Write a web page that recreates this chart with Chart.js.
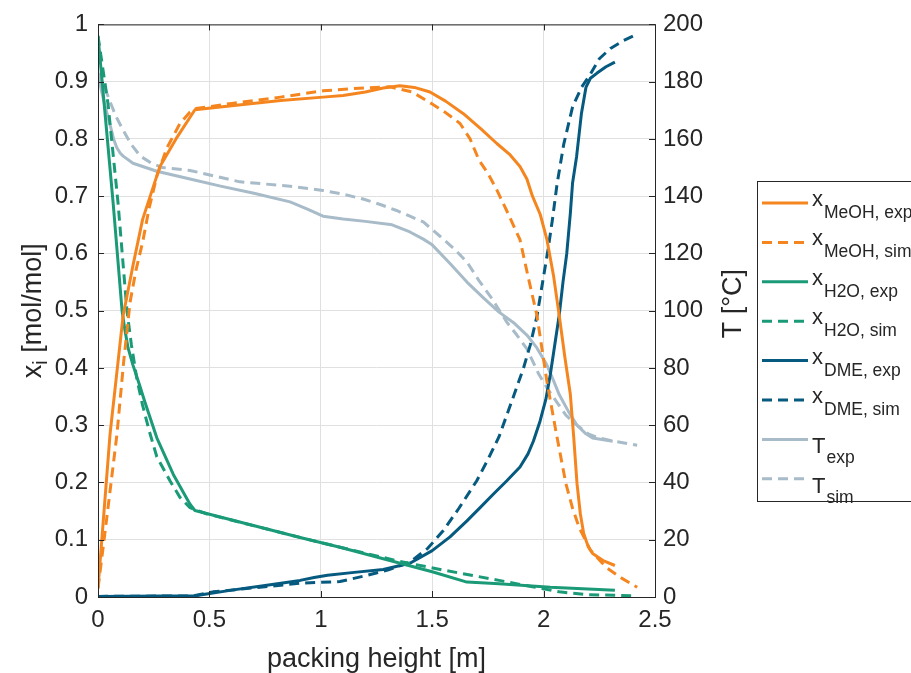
<!DOCTYPE html>
<html>
<head>
<meta charset="utf-8">
<script src="https://cdn.jsdelivr.net/npm/chart.js@4.4.0/dist/chart.umd.min.js"></script>
<style>
  html, body { margin: 0; padding: 0; background: #fff; overflow: hidden; }
</style>
</head>
<body>
<canvas id="myChart" width="911" height="673"></canvas>
<script>
// packing height [m] / mole fraction [mol/mol] / temperature [°C]
const hMeohExp = [0, 0.054, 0.113, 0.157, 0.2, 0.278, 0.35, 0.435, 0.6, 0.82, 1.01, 1.1, 1.2, 1.28, 1.355, 1.42, 1.49, 1.56, 1.64, 1.72, 1.79, 1.85, 1.894, 1.925, 1.95, 1.985, 2.015, 2.045, 2.07, 2.095, 2.12, 2.135, 2.15, 2.165, 2.18, 2.2, 2.22, 2.27, 2.32];
const xMeohExp = [0.015, 0.284, 0.492, 0.579, 0.659, 0.752, 0.8, 0.851, 0.858, 0.867, 0.873, 0.876, 0.882, 0.889, 0.893, 0.89, 0.882, 0.866, 0.844, 0.817, 0.792, 0.772, 0.752, 0.73, 0.70, 0.668, 0.624, 0.56, 0.492, 0.42, 0.354, 0.28, 0.198, 0.145, 0.111, 0.088, 0.076, 0.063, 0.055];

const hMeohSim = [0, 0.04, 0.085, 0.115, 0.144, 0.17, 0.2, 0.23, 0.264, 0.31, 0.368, 0.413, 0.44, 0.6, 0.82, 1.01, 1.15, 1.31, 1.41, 1.5, 1.56, 1.625, 1.67, 1.71, 1.75, 1.79, 1.84, 1.894, 1.93, 1.97, 2.015, 2.055, 2.1, 2.13, 2.16, 2.21, 2.28, 2.35, 2.42];
const xMeohSim = [0.015, 0.14, 0.284, 0.41, 0.515, 0.57, 0.619, 0.68, 0.735, 0.785, 0.827, 0.847, 0.853, 0.862, 0.873, 0.884, 0.888, 0.891, 0.882, 0.861, 0.846, 0.827, 0.8, 0.763, 0.74, 0.711, 0.67, 0.624, 0.56, 0.492, 0.376, 0.29, 0.198, 0.155, 0.121, 0.082, 0.052, 0.033, 0.017];

const hH2oExp = [0, 0.035, 0.068, 0.09, 0.108, 0.12, 0.135, 0.157, 0.185, 0.21, 0.264, 0.338, 0.413, 0.435, 0.907, 1.086, 1.356, 1.5, 1.656, 1.8, 2.03, 2.32];
const xH2oExp = [0.98, 0.83, 0.688, 0.585, 0.5, 0.468, 0.435, 0.405, 0.372, 0.341, 0.278, 0.214, 0.162, 0.151, 0.104, 0.087, 0.059, 0.044, 0.026, 0.023, 0.017, 0.012];

const hH2oSim = [0, 0.045, 0.09, 0.115, 0.13, 0.15, 0.175, 0.2, 0.23, 0.264, 0.323, 0.368, 0.413, 0.49, 1.0, 1.356, 1.55, 1.8, 1.95, 2.07, 2.2, 2.42];
const xH2oSim = [0.98, 0.861, 0.688, 0.57, 0.5, 0.44, 0.38, 0.335, 0.29, 0.245, 0.203, 0.174, 0.156, 0.145, 0.095, 0.062, 0.047, 0.029, 0.018, 0.009, 0.004, 0.002];

const hDmeExp = [0, 0.435, 0.6, 0.75, 0.907, 0.97, 1.03, 1.15, 1.28, 1.4, 1.5, 1.58, 1.656, 1.715, 1.775, 1.835, 1.894, 1.93, 1.954, 1.984, 2.01, 2.03, 2.05, 2.07, 2.087, 2.104, 2.12, 2.13, 2.148, 2.17, 2.19, 2.21, 2.24, 2.28, 2.32];
const xDmeExp = [0.001, 0.002, 0.012, 0.02, 0.029, 0.034, 0.038, 0.043, 0.048, 0.059, 0.081, 0.105, 0.133, 0.156, 0.18, 0.203, 0.227, 0.25, 0.272, 0.307, 0.345, 0.388, 0.44, 0.492, 0.55, 0.6, 0.67, 0.723, 0.769, 0.845, 0.89, 0.906, 0.915, 0.926, 0.934];

const hDmeSim = [0, 0.43, 0.516, 0.7, 0.907, 1.086, 1.21, 1.3, 1.4, 1.48, 1.55, 1.62, 1.7, 1.75, 1.8, 1.86, 1.91, 1.94, 1.97, 2.0, 2.02, 2.04, 2.06, 2.09, 2.13, 2.17, 2.21, 2.25, 2.3, 2.36, 2.42];
const xDmeSim = [0.001, 0.002, 0.009, 0.016, 0.024, 0.027, 0.038, 0.047, 0.061, 0.085, 0.116, 0.155, 0.203, 0.24, 0.28, 0.345, 0.40, 0.44, 0.49, 0.56, 0.607, 0.66, 0.72, 0.79, 0.856, 0.89, 0.913, 0.94, 0.958, 0.972, 0.983];

const hTExp = [0, 0.015, 0.03, 0.054, 0.07, 0.084, 0.1, 0.113, 0.157, 0.264, 0.413, 0.55, 0.7, 0.862, 0.94, 1.01, 1.1, 1.2, 1.32, 1.4, 1.46, 1.5, 1.58, 1.656, 1.73, 1.8, 1.87, 1.925, 1.97, 2.015, 2.045, 2.07, 2.11, 2.15, 2.19, 2.22, 2.31];
const tExp  = [183, 177, 172, 165, 160, 157, 155, 154, 151.5, 148.7, 146, 143.5, 141, 138, 135.5, 133, 132, 131.2, 130, 127.5, 125, 123, 116.5, 110, 104.5, 99.5, 95.5, 91.5, 87, 81, 75.5, 70.7, 65, 60, 57, 55.5, 54.4];

const hTSim = [0, 0.03, 0.054, 0.08, 0.113, 0.15, 0.19, 0.24, 0.29, 0.413, 0.637, 0.862, 1.01, 1.1, 1.19, 1.27, 1.34, 1.4, 1.46, 1.535, 1.6, 1.656, 1.71, 1.77, 1.835, 1.88, 1.925, 1.98, 2.02, 2.06, 2.1, 2.15, 2.2, 2.25, 2.33, 2.42];
const tSim  = [183, 178, 173, 168, 163, 158, 154, 151.5, 150, 149, 145, 143.5, 142, 140.7, 139, 137, 135, 133, 131, 126, 121.5, 117, 110.5, 104, 96, 91.5, 86.7, 77.6, 72.5, 68, 63.5, 60, 57, 55.5, 54.2, 53];

const legendMain = ['x', 'x', 'x', 'x', 'x', 'x', 'T', 'T'];
const legendSub = ['MeOH, exp', 'MeOH, sim', 'H2O, exp', 'H2O, sim', 'DME, exp', 'DME, sim', 'exp', 'sim'];

const orange = '#f5861f';
const green = '#1b9a78';
const navy = '#065a7f';
const grey = '#a8bbc8';
const axisColor = '#262626';
const dash = [10, 6];

function pts(xs, ys) {
  return xs.map((x, i) => ({ x: x, y: ys[i] }));
}

function line(label, xs, ys, color, dashed, axis) {
  return {
    label: label,
    data: pts(xs, ys),
    borderColor: color,
    backgroundColor: color,
    borderWidth: 3,
    borderDash: dashed ? dash : [],
    borderJoinStyle: 'round',
    pointRadius: 0,
    tension: 0,
    yAxisID: axis
  };
}

const data = {
  datasets: [
    line('x MeOH, exp', hMeohExp, xMeohExp, orange, false, 'y'),
    line('x MeOH, sim', hMeohSim, xMeohSim, orange, true, 'y'),
    line('x H2O, exp', hH2oExp, xH2oExp, green, false, 'y'),
    line('x H2O, sim', hH2oSim, xH2oSim, green, true, 'y'),
    line('x DME, exp', hDmeExp, xDmeExp, navy, false, 'y'),
    line('x DME, sim', hDmeSim, xDmeSim, navy, true, 'y'),
    line('T exp', hTExp, tExp, grey, false, 'y2'),
    line('T sim', hTSim, tSim, grey, true, 'y2')
  ]
};

const fmt = v => String(Math.round(v * 10) / 10);

// box, inner tick marks, axis titles with subscripts and the legend
const decor = {
  id: 'decor',
  afterDraw(chart) {
    const { ctx, chartArea: a, scales } = chart;
    ctx.save();
    ctx.strokeStyle = axisColor;
    ctx.lineWidth = 1;
    ctx.strokeRect(a.left + 0.5, a.top + 0.5, a.right - a.left, a.bottom - a.top);
    const tl = 6;
    ctx.beginPath();
    scales.x.ticks.forEach(t => {
      const p = Math.round(scales.x.getPixelForValue(t.value)) + 0.5;
      ctx.moveTo(p, a.bottom); ctx.lineTo(p, a.bottom - tl);
      ctx.moveTo(p, a.top); ctx.lineTo(p, a.top + tl);
    });
    scales.y.ticks.forEach(t => {
      const p = Math.round(scales.y.getPixelForValue(t.value)) + 0.5;
      ctx.moveTo(a.left, p); ctx.lineTo(a.left + tl, p);
    });
    scales.y2.ticks.forEach(t => {
      const p = Math.round(scales.y2.getPixelForValue(t.value)) + 0.5;
      ctx.moveTo(a.right, p); ctx.lineTo(a.right - tl, p);
    });
    ctx.stroke();

    ctx.fillStyle = axisColor;
    ctx.textBaseline = 'alphabetic';
    // x title
    ctx.font = '27px "Liberation Sans"';
    ctx.textAlign = 'center';
    ctx.fillText('packing height [m]', (a.left + a.right) / 2, 667);

    const midY = (a.top + a.bottom) / 2;
    // left title: x_i [mol/mol]
    ctx.textAlign = 'left';
    ctx.save();
    ctx.translate(41, midY);
    ctx.rotate(-Math.PI / 2);
    ctx.font = '27px "Liberation Sans"';
    const w1 = ctx.measureText('x').width;
    const w3 = ctx.measureText(' [mol/mol]').width;
    ctx.font = '20px "Liberation Sans"';
    const w2 = ctx.measureText('i').width;
    const x0 = -(w1 + w2 + w3) / 2;
    ctx.font = '27px "Liberation Sans"';
    ctx.fillText('x', x0, 0);
    ctx.font = '20px "Liberation Sans"';
    ctx.fillText('i', x0 + w1, 6);
    ctx.font = '27px "Liberation Sans"';
    ctx.fillText(' [mol/mol]', x0 + w1 + w2, 0);
    ctx.restore();

    // right title: T [°C]
    ctx.save();
    ctx.translate(741, midY - 7);
    ctx.rotate(-Math.PI / 2);
    ctx.font = '27px "Liberation Sans"';
    ctx.textAlign = 'center';
    ctx.fillText('T [°C]', 0, 0);
    ctx.restore();

    // legend
    const lx = 757, ly = 181, rowH = 39.4, row0 = 203;
    ctx.strokeStyle = axisColor;
    ctx.lineWidth = 1;
    ctx.strokeRect(lx + 0.5, ly + 0.5, 200, 320);
    chart.data.datasets.forEach((ds, i) => {
      const y = row0 + i * rowH;
      ctx.strokeStyle = ds.borderColor;
      ctx.lineWidth = 3;
      ctx.setLineDash(ds.borderDash);
      ctx.beginPath();
      ctx.moveTo(762, y);
      ctx.lineTo(808, y);
      ctx.stroke();
      ctx.setLineDash([]);
      const isT = legendMain[i] === 'T';
      ctx.fillStyle = axisColor;
      ctx.textAlign = 'left';
      ctx.font = '22px "Liberation Sans"';
      ctx.fillText(legendMain[i], 812, y + (isT ? 14 : 3));
      const mw = ctx.measureText(legendMain[i]).width;
      ctx.font = '17.5px "Liberation Sans"';
      ctx.fillText(legendSub[i], 812 + mw + 1, y + (isT ? 24 : 15));
    });
    ctx.restore();
  }
};

const config = {
  type: 'line',
  data,
  options: {
    responsive: false,
    animation: false,
    layout: { padding: { left: 0, right: 196, top: 20, bottom: 0 } },
    plugins: { legend: { display: false }, tooltip: { enabled: false } },
    scales: {
      x: {
        type: 'linear',
        min: 0,
        max: 2.5,
        border: { display: false },
        grid: { color: '#e0e0e0', drawTicks: false },
        ticks: { stepSize: 0.5, color: axisColor, padding: 9, font: { size: 24 }, callback: fmt, maxRotation: 0 },
        afterFit(s) { s.height = 76; }
      },
      y: {
        position: 'left',
        min: 0,
        max: 1,
        border: { display: false },
        grid: { color: '#e0e0e0', drawTicks: false },
        ticks: { stepSize: 0.1, color: axisColor, padding: 10, font: { size: 24 }, callback: fmt },
        afterFit(s) { s.width = 98; }
      },
      y2: {
        position: 'right',
        min: 0,
        max: 200,
        border: { display: false },
        grid: { drawOnChartArea: false, drawTicks: false },
        ticks: { stepSize: 20, color: axisColor, padding: 8, font: { size: 24 } },
        afterFit(s) { s.width = 60; }
      }
    }
  },
  plugins: [decor]
};

Chart.defaults.font.family = '"Liberation Sans", Arial, sans-serif';

const myChart = new Chart(
  document.getElementById('myChart'),
  config
);
</script>
</body>
</html>
